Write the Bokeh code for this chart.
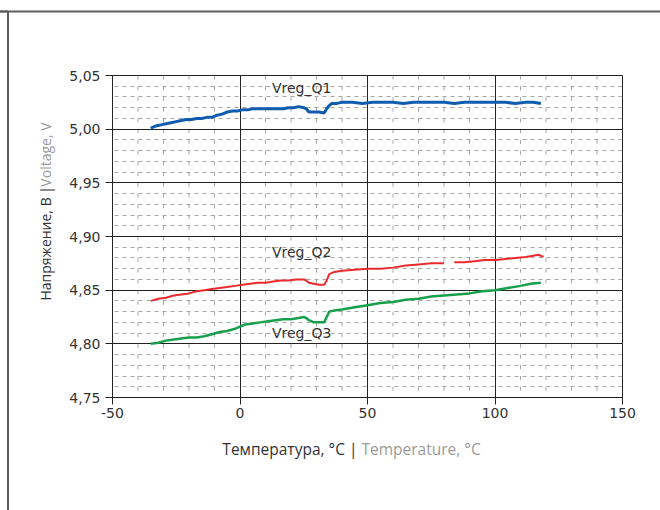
import math
import numpy as np
from bokeh.plotting import figure
from bokeh.models import (Range1d, FixedTicker, CustomJSTickFormatter, Label,
                          ColumnDataSource)
from bokeh.embed import file_html
from bokeh.resources import INLINE

# ---------------- data ----------------
temp_q1 = [-35, -33, -31, -29, -27, -25, -23, -21, -19, -17, -15, -13, -11, -9, -7, -5,
           -3, -1, 1, 3, 5, 7, 9, 11, 13, 15, 17, 19, 21, 23, 25, 26, 27, 29, 31, 33,
           34, 35, 36, 38, 40, 44, 48, 52, 56, 60, 64, 68, 72, 76, 80, 84, 88, 92,
           96, 100, 104, 108, 112, 115, 118]
vreg_q1 = [5.001, 5.003, 5.004, 5.005, 5.006, 5.007, 5.008, 5.009, 5.009, 5.010, 5.010,
           5.011, 5.011, 5.013, 5.014, 5.016, 5.017, 5.017, 5.018, 5.018, 5.019, 5.019,
           5.019, 5.019, 5.019, 5.019, 5.019, 5.020, 5.020, 5.021, 5.020, 5.019, 5.016,
           5.016, 5.016, 5.015, 5.019, 5.022, 5.024, 5.024, 5.025, 5.025, 5.024, 5.025,
           5.025, 5.025, 5.024, 5.025, 5.025, 5.025, 5.025, 5.024, 5.025, 5.025, 5.025,
           5.025, 5.025, 5.024, 5.025, 5.025, 5.024]

temp_q2 = [-35, -32, -29, -26, -23, -20, -17, -14, -11, -8, -5, -2, 1, 4, 7, 10, 13, 16,
           19, 22, 25, 26, 27, 29, 31, 33, 34, 35, 37, 40, 45, 50, 55, 60, 65, 70, 75,
           80, 81, 84, 88, 92, 96, 100, 104, 108, 112, 115, 117, 119]
vreg_q2 = [4.840, 4.842, 4.843, 4.845, 4.846, 4.847, 4.849, 4.850, 4.851, 4.852, 4.853,
           4.854, 4.855, 4.856, 4.857, 4.857, 4.858, 4.859, 4.859, 4.860, 4.860, 4.859,
           4.857, 4.856, 4.855, 4.855, 4.859, 4.865, 4.867, 4.868, 4.869, 4.870, 4.870,
           4.871, 4.873, 4.874, 4.875, 4.875, float("nan"), 4.876, 4.876, 4.877, 4.878,
           4.878, 4.879, 4.880, 4.881, 4.882, 4.883, 4.881]

temp_q3 = [-35, -32, -29, -26, -23, -20, -17, -14, -11, -8, -5, -2, 0, 2, 5, 8, 11, 14,
           17, 20, 23, 25, 26, 27, 29, 31, 33, 34, 35, 37, 40, 45, 50, 55, 60, 65, 70,
           75, 80, 85, 90, 95, 100, 105, 110, 114, 118]
vreg_q3 = [4.800, 4.801, 4.803, 4.804, 4.805, 4.806, 4.806, 4.807, 4.809, 4.811, 4.812,
           4.814, 4.816, 4.818, 4.819, 4.820, 4.821, 4.822, 4.823, 4.823, 4.824, 4.825,
           4.824, 4.822, 4.820, 4.820, 4.820, 4.825, 4.830, 4.831, 4.832, 4.834, 4.836,
           4.838, 4.839, 4.841, 4.842, 4.844, 4.845, 4.846, 4.847, 4.849, 4.850, 4.852,
           4.854, 4.856, 4.857]

series_names = ["Vreg_Q1", "Vreg_Q2", "Vreg_Q3"]
label_pos = [(12.5, 5.038), (12.5, 4.8853), (12.5, 4.8097)]

x_ticks = [-50, 0, 50, 100, 150]
x_minor = [-40, -30, -20, -10, 10, 20, 30, 40, 60, 70, 80, 90, 110, 120, 130, 140]
y_ticks = [4.75, 4.80, 4.85, 4.90, 4.95, 5.00, 5.05]
y_minor = [round(4.75 + 0.01 * i, 2) for i in range(31)]

x_title = ["Температура, °C |", "Temperature, °C"]
y_title = ["Напряжение, В |", "Voltage, V"]

GRID_MINOR = "#a6a6a6"
DARK = "#333333"
GREY = "#9a9a9a"
TITLE_FONT = "Open Sans"

# ---------------- figure ----------------
p = figure(width=660, height=510, output_backend="svg", toolbar_location=None,
           x_range=Range1d(-50, 150), y_range=Range1d(4.75, 5.05),
           min_border_left=112, min_border_right=38, min_border_top=75,
           min_border_bottom=113, background_fill_color="white",
           border_fill_color="white")
p.outline_line_color = "#222222"
p.outline_line_width = 1

for ax in (p.xaxis[0], p.yaxis[0]):
    ax.axis_line_color = "#222222"
    ax.major_tick_line_color = "#222222"
    ax.major_tick_in = 0
    ax.major_tick_out = 7
    ax.minor_tick_line_color = None
    ax.major_label_text_font = "DejaVu Sans"
    ax.major_label_text_font_size = "14px"
    ax.major_label_text_color = DARK
p.xaxis.ticker = FixedTicker(ticks=x_ticks, minor_ticks=x_minor)
p.yaxis.ticker = FixedTicker(ticks=y_ticks, minor_ticks=y_minor)
p.xaxis.formatter = CustomJSTickFormatter(code="return tick.toString();")
p.yaxis.formatter = CustomJSTickFormatter(code="return tick.toFixed(2).replace('.', ',');")
p.xaxis.major_label_standoff = 3
p.yaxis.major_label_standoff = 5

p.xgrid.grid_line_color = "#222222"
p.ygrid.grid_line_color = "#222222"
p.ygrid.minor_grid_line_color = GRID_MINOR
p.ygrid.minor_grid_line_dash = "4 4"
p.ygrid.minor_grid_line_dash_offset = -2
p.xgrid.minor_grid_line_color = None

# short vertical dashes of the minor x grid, hanging below each y level
xs, ys = np.meshgrid(np.array(x_minor, float), np.array(y_minor[1:], float))
dash_src = ColumnDataSource(dict(x0=xs.ravel(), y0=ys.ravel(), y1=ys.ravel() - 0.0037))
p.segment(x0="x0", y0="y0", x1="x0", y1="y1", source=dash_src,
          line_color=GRID_MINOR, line_width=1, level="underlay")

# data lines
p.line(temp_q1, vreg_q1, line_color="#0f5cb0", line_width=3)
p.line(temp_q2, vreg_q2, line_color="#ec2a2e", line_width=2)
p.line(temp_q3, vreg_q3, line_color="#17a04c", line_width=2.5)

for name, (lx, ly) in zip(series_names, label_pos):
    p.add_layout(Label(x=lx, y=ly, text=name, text_font="DejaVu Sans",
                       text_font_size="14px", text_color=DARK,
                       text_align="left", text_baseline="middle"))

# axis titles, two-coloured (canvas coordinates, placed in side panels)
p.add_layout(Label(x=357, y=448, x_units="canvas", y_units="canvas", text=x_title[0],
                   text_font=TITLE_FONT, text_font_size="15.5px", text_color=DARK,
                   text_align="right", text_baseline="middle"), "below")
p.add_layout(Label(x=361, y=448, x_units="canvas", y_units="canvas", text=x_title[1],
                   text_font=TITLE_FONT, text_font_size="15.5px", text_color=GREY,
                   text_align="left", text_baseline="middle"), "below")
p.add_layout(Label(x=45, y=300, x_units="canvas", y_units="canvas", text=y_title[0],
                   angle=math.pi / 2, text_font=TITLE_FONT, text_font_size="14px",
                   text_color=DARK, text_align="left", text_baseline="middle"), "left")
p.add_layout(Label(x=45, y=122, x_units="canvas", y_units="canvas", text=y_title[1],
                   angle=math.pi / 2, text_font=TITLE_FONT, text_font_size="14px",
                   text_color=GREY, text_align="right", text_baseline="middle"), "left")

# outer frame: its left edge and top edge (the other edges fall outside the window)
p.add_layout(Label(x=7.5, y=11, x_units="canvas", y_units="canvas", text=" ",
                   text_font_size="40px", text_align="right", text_baseline="top",
                   padding=(0, 0, 600, 20), border_line_color="#5e5e5e",
                   border_line_width=2, background_fill_color=None), "right")
p.add_layout(Label(x=-12, y=11, x_units="canvas", y_units="canvas", text=" ",
                   text_font_size="30px", text_align="left", text_baseline="bottom",
                   padding=(20, 700, 0, 20), border_line_color="#5e5e5e",
                   border_line_width=2, background_fill_color=None), "above")

open("out.html", "w").write(file_html(p, INLINE))
